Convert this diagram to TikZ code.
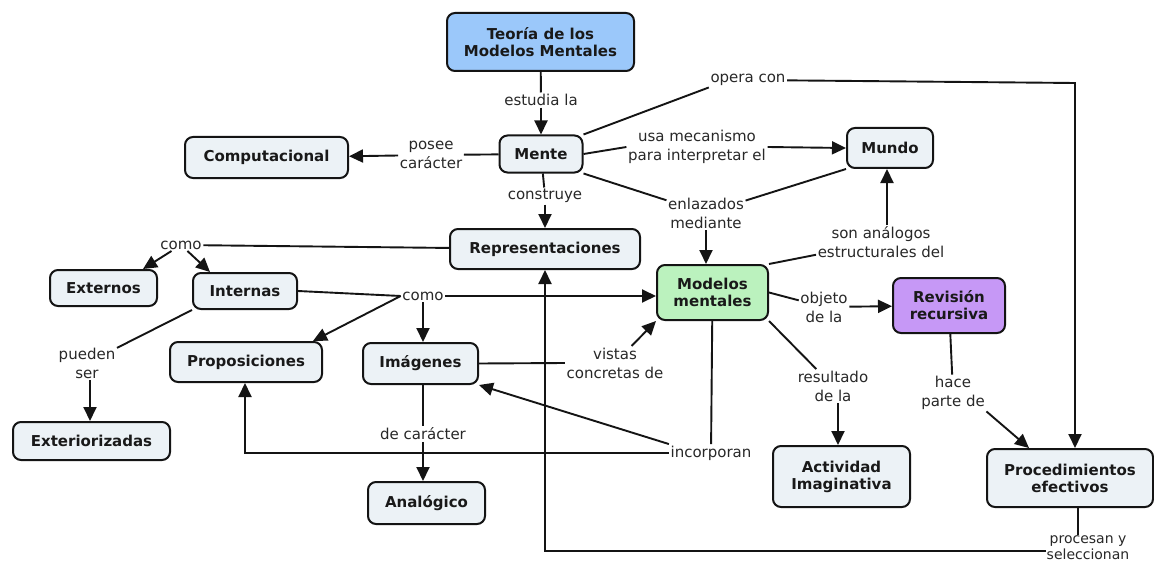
\documentclass[tikz,border=0pt]{standalone}
\usepackage{fontspec}
\setmainfont{DejaVu Sans}
\usetikzlibrary{arrows.meta}
\definecolor{boxfill}{RGB}{236,242,246}
\definecolor{bluefill}{RGB}{155,200,250}
\definecolor{greenfill}{RGB}{187,242,190}
\definecolor{purplefill}{RGB}{198,152,246}
\definecolor{edgecol}{RGB}{20,20,20}
\definecolor{lblcol}{RGB}{40,40,40}
\begin{document}
\begin{tikzpicture}[x=1pt,y=-1pt,
  concept/.style={draw=edgecol, line width=2pt, rounded corners=8pt, fill=boxfill,
    align=center, font=\bfseries\fontsize{15}{17}\selectfont, inner sep=0pt, text=black!90},
  lbl/.style={align=center, font=\fontsize{15}{19}\selectfont, inner sep=1.5pt, text=lblcol},
  con/.style={line width=1.9pt, draw=edgecol},
  arr/.style={con, -{Triangle[length=14pt,width=13pt]}}]
\useasboundingbox[fill=white] (0,0) rectangle (1154,567);

% concepts
\node[concept, fill=bluefill, minimum width=187pt, minimum height=58pt] (teoria) at (540.5,42) {Teoría de los\\Modelos Mentales};
\node[concept, minimum width=83pt, minimum height=37pt] (mente) at (541,154) {Mente};
\node[concept, minimum width=163pt, minimum height=41pt] (comp) at (266.5,157.5) {Computacional};
\node[concept, minimum width=86pt, minimum height=40pt] (mundo) at (890,148) {Mundo};
\node[concept, minimum width=190pt, minimum height=40pt] (repr) at (545,249) {Representaciones};
\node[concept, minimum width=107pt, minimum height=36pt] (externos) at (103.5,288) {Externos};
\node[concept, minimum width=104pt, minimum height=36pt] (internas) at (245,291) {Internas};
\node[concept, minimum width=152pt, minimum height=40pt] (propos) at (246,362) {Proposiciones};
\node[concept, minimum width=115pt, minimum height=41pt] (imagenes) at (420.5,363.5) {Imágenes};
\node[concept, minimum width=157pt, minimum height=38pt] (exter) at (91.5,441) {Exteriorizadas};
\node[concept, fill=greenfill, minimum width=111pt, minimum height=55pt] (modelos) at (712.5,292.5) {Modelos\\mentales};
\node[concept, fill=purplefill, minimum width=112pt, minimum height=55pt] (revision) at (949,305.5) {Revisión\\recursiva};
\node[concept, minimum width=137pt, minimum height=61pt] (actividad) at (841.5,476.5) {Actividad\\Imaginativa};
\node[concept, minimum width=166pt, minimum height=58pt] (proced) at (1070,478) {Procedimientos\\efectivos};
\node[concept, minimum width=117pt, minimum height=42pt] (analogico) at (426.5,503) {Analógico};

% linking phrases
\node[lbl] (lestudia) at (541,100) {estudia la};
\node[lbl] (lposee) at (431,155) {posee\\carácter};
\node[lbl] (lconstruye) at (545,196) {construye};
\node[lbl] (lopera) at (748,80) {opera con};
\node[lbl] (lusa) at (697,147) {usa mecanismo\\para interpretar el};
\node[lbl] (lenlaz) at (706,213) {enlazados\\mediante};
\node[lbl] (lanalog) at (881,242) {son análogos\\estructurales del};
\node[lbl] (lcomo1) at (181,245) {como};
\node[lbl] (lcomo2) at (423,296) {como};
\node[lbl] (lpueden) at (87,363) {pueden\\ser};
\node[lbl] (lvistas) at (615,363) {vistas\\concretas de};
\node[lbl] (ldecar) at (423,434) {de carácter};
\node[lbl] (lincorp) at (711,453) {incorporan};
\node[lbl] (lobjeto) at (824,307) {objeto\\de la};
\node[lbl] (lresult) at (833,386) {resultado\\de la};
\node[lbl] (lhace) at (953,393) {hace\\parte de};
\node[lbl, font=\fontsize{14}{16}\selectfont, inner sep=0.5pt] (lprocesan) at (1088,548) {procesan y\\seleccionan};

% helper coordinates
\coordinate (copera) at (1075,83);
\coordinate (cincorp) at (245,453);
\coordinate (cprocesan) at (545,551);

% connectors
\draw[con] (teoria) -- (lestudia);
\draw[arr] (lestudia) -- (mente);

\draw[con] (mente) -- (lposee);
\draw[arr] (lposee) -- (comp);

\draw[con] (mente) -- (lconstruye);
\draw[arr] (lconstruye) -- (repr);

\draw[con] (mente.north east) -- (lopera.south west);
\draw[arr] (lopera) -- (copera) -- (copera |- proced.north);

\draw[con] (mente.east) -- (lusa.west);
\draw[arr] (lusa.east) -- (mundo.west);

\draw[con] (mente.south east) -- (lenlaz);
\draw[con] (mundo.south west) -- (lenlaz);
\draw[arr] (lenlaz.south) -- (lenlaz.south |- modelos.north);

\draw[con] (modelos.north east) -- (lanalog);
\draw[arr] (lanalog.north -| 887,0) -- (887,0 |- mundo.south);

\draw[con] (repr) -- (lcomo1);
\draw[arr] (lcomo1) -- ([xshift=-15pt]externos.north east);
\draw[arr] (lcomo1) -- ([xshift=18pt]internas.north west);

\draw[con] (internas.east) -- (lcomo2.west);
\draw[arr] (lcomo2.east) -- (lcomo2.east -| modelos.west);
\draw[arr] (lcomo2) -- (lcomo2 |- imagenes.north);
\draw[arr] (lcomo2.west) -- ([xshift=-10pt]propos.north east);

\draw[con] (internas.south west) -- (lpueden);
\draw[arr] (lpueden.south -| 90,0) -- (90,0 |- exter.north);

\draw[con] (imagenes.east) -- (lvistas.west);
\draw[arr] (lvistas) -- (modelos.south west);

\draw[con] (ldecar |- imagenes.south) -- (ldecar);
\draw[arr] (ldecar) -- (ldecar |- analogico.north);

\draw[con] (modelos) -- (lincorp);
\draw[arr] (lincorp.north west) -- (imagenes.south east);
\draw[arr] (lincorp.west) -- (cincorp) -- (cincorp |- propos.south);

\draw[con] (modelos.east) -- (lobjeto);
\draw[arr] (lobjeto) -- (revision);

\draw[con] (modelos.south east) -- (lresult);
\draw[arr] (lresult.south -| 838,0) -- (838,0 |- actividad.north);

\draw[con] (revision) -- (lhace);
\draw[arr] (lhace.south east) -- ([xshift=43pt]proced.north west);

\draw[con] (proced.south -| 1078,0) -- (1078,0 |- lprocesan.north);
\draw[arr] (lprocesan.west |- cprocesan) -- (cprocesan) -- (cprocesan |- repr.south);
\end{tikzpicture}
\end{document}
